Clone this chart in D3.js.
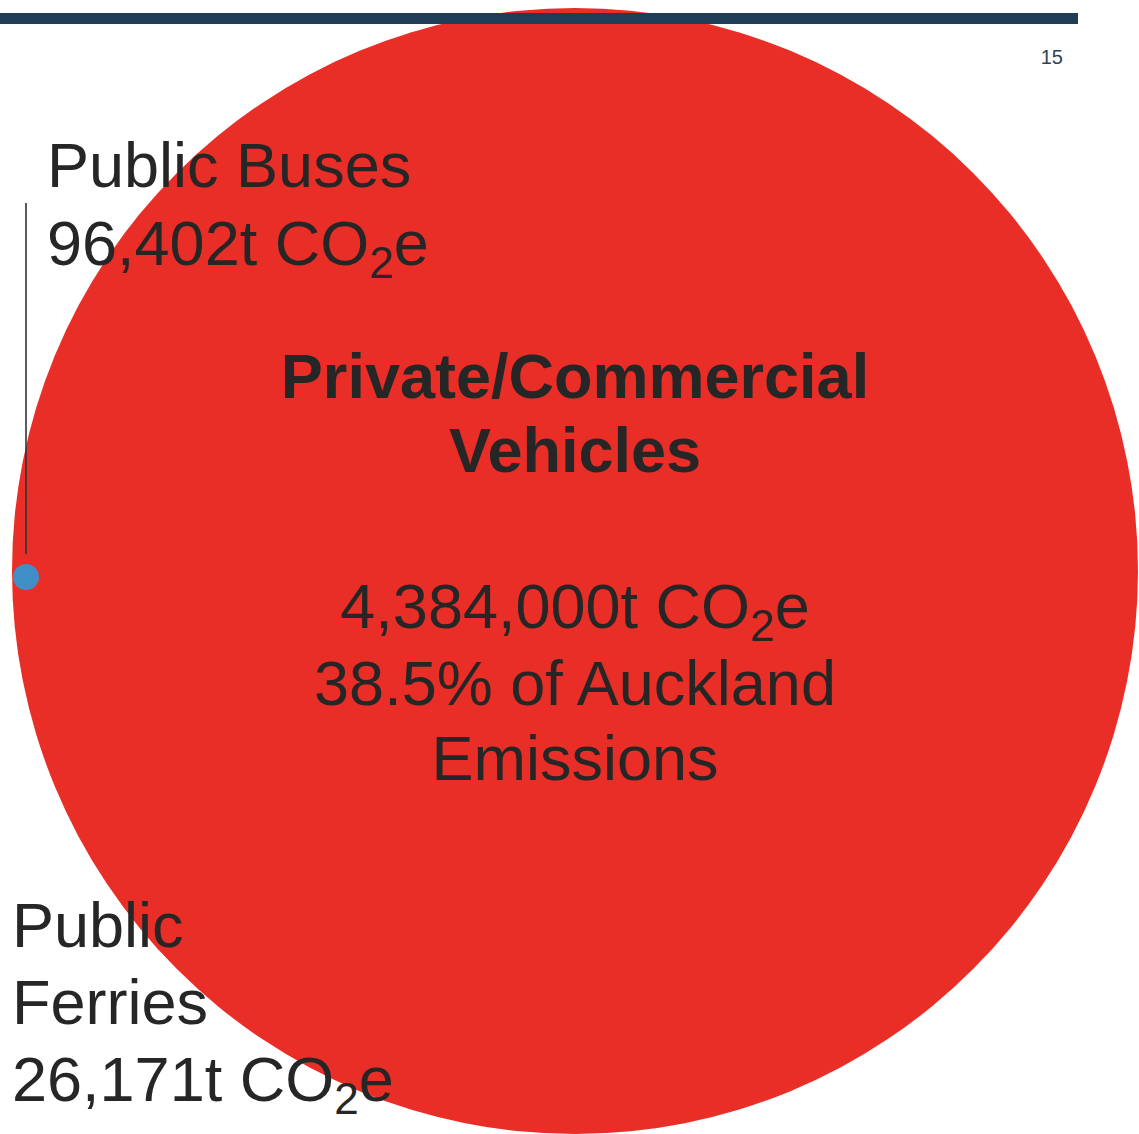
<!DOCTYPE html>
<html lang="en">
<head>
    <meta charset="UTF-8">
    <title>Transport Emissions</title>
    <script src="https://cdn.jsdelivr.net/npm/d3@7"></script>
    <style>
        body { margin: 0; background: white; }
        text { font-family: "Liberation Sans", Arial, sans-serif; fill: #262626; }
    </style>
</head>
<body>
<script>
    // ----------------- data -----------------
    const categories = ["Private/Commercial Vehicles", "Public Buses", "Public Ferries"];
    const emissions = [4384000, 96402, 26171];          // t CO2e
    const colours = ["#e92e27", "#3f8fc6", "#3f8fc6"];
    const shareOfAuckland = "38.5%";
    const pageNumber = "15";

    const W = 1139, H = 1134;
    const fmt = d3.format(",");

    const svg = d3.select("body").append("svg")
        .attr("width", W)
        .attr("height", H);

    // radius scale (radius proportional to emissions)
    const rScale = d3.scaleLinear()
        .domain([0, d3.max(emissions)])
        .range([0, 563]);

    const cx = 575, cy = 571;
    const R = rScale(emissions[0]);

    // big bubble
    svg.append("circle")
        .attr("cx", cx)
        .attr("cy", cy)
        .attr("r", R)
        .attr("fill", colours[0]);

    // header bar + page number
    svg.append("rect")
        .attr("x", 0).attr("y", 13)
        .attr("width", 1078).attr("height", 11)
        .attr("fill", "#1f3d54");
    svg.append("text")
        .attr("x", 1063).attr("y", 64)
        .attr("text-anchor", "end")
        .style("font-size", "20px")
        .style("fill", "#2d4358")
        .text(pageNumber);

    // buses bubble sits on the left edge of the big one
    const rb = Math.max(rScale(emissions[1]), 13);
    const bx = cx - R + rb + 1, by = 577;

    svg.append("line")
        .attr("x1", bx).attr("x2", bx)
        .attr("y1", 203).attr("y2", by - rb - 10)
        .attr("stroke", "#333")
        .attr("stroke-width", 1.6);

    svg.append("circle")
        .attr("cx", bx).attr("cy", by)
        .attr("r", rb)
        .attr("fill", colours[1]);

    // helper: a line with "t CO2e"
    function co2Line(sel, x, y, num, anchor, size) {
        const t = sel.append("text")
            .attr("x", x).attr("y", y)
            .attr("text-anchor", anchor)
            .style("font-size", size + "px");
        t.append("tspan").text(fmt(num) + "t CO");
        t.append("tspan").attr("dy", 13).style("font-size", (size * 0.7) + "px").text("2");
        t.append("tspan").attr("dy", -13).text("e");
        return t;
    }

    function plain(x, y, txt, anchor, size, weight) {
        svg.append("text")
            .attr("x", x).attr("y", y)
            .attr("text-anchor", anchor)
            .style("font-size", size + "px")
            .style("font-weight", weight || "normal")
            .text(txt);
    }

    // buses label
    plain(47, 187, "Public Buses", "start", 63);
    co2Line(svg, 47, 265, emissions[1], "start", 63);

    // centre label
    plain(cx, 398, "Private/Commercial", "middle", 63, "bold");
    plain(cx, 472, "Vehicles", "middle", 63, "bold");
    co2Line(svg, cx, 628, emissions[0], "middle", 63);
    plain(cx, 705, shareOfAuckland + " of Auckland", "middle", 63);
    plain(cx, 780, "Emissions", "middle", 63);

    // ferries label
    plain(12, 947, "Public", "start", 63);
    plain(12, 1024, "Ferries", "start", 63);
    co2Line(svg, 12, 1101, emissions[2], "start", 63);
</script>
</body>
</html>
